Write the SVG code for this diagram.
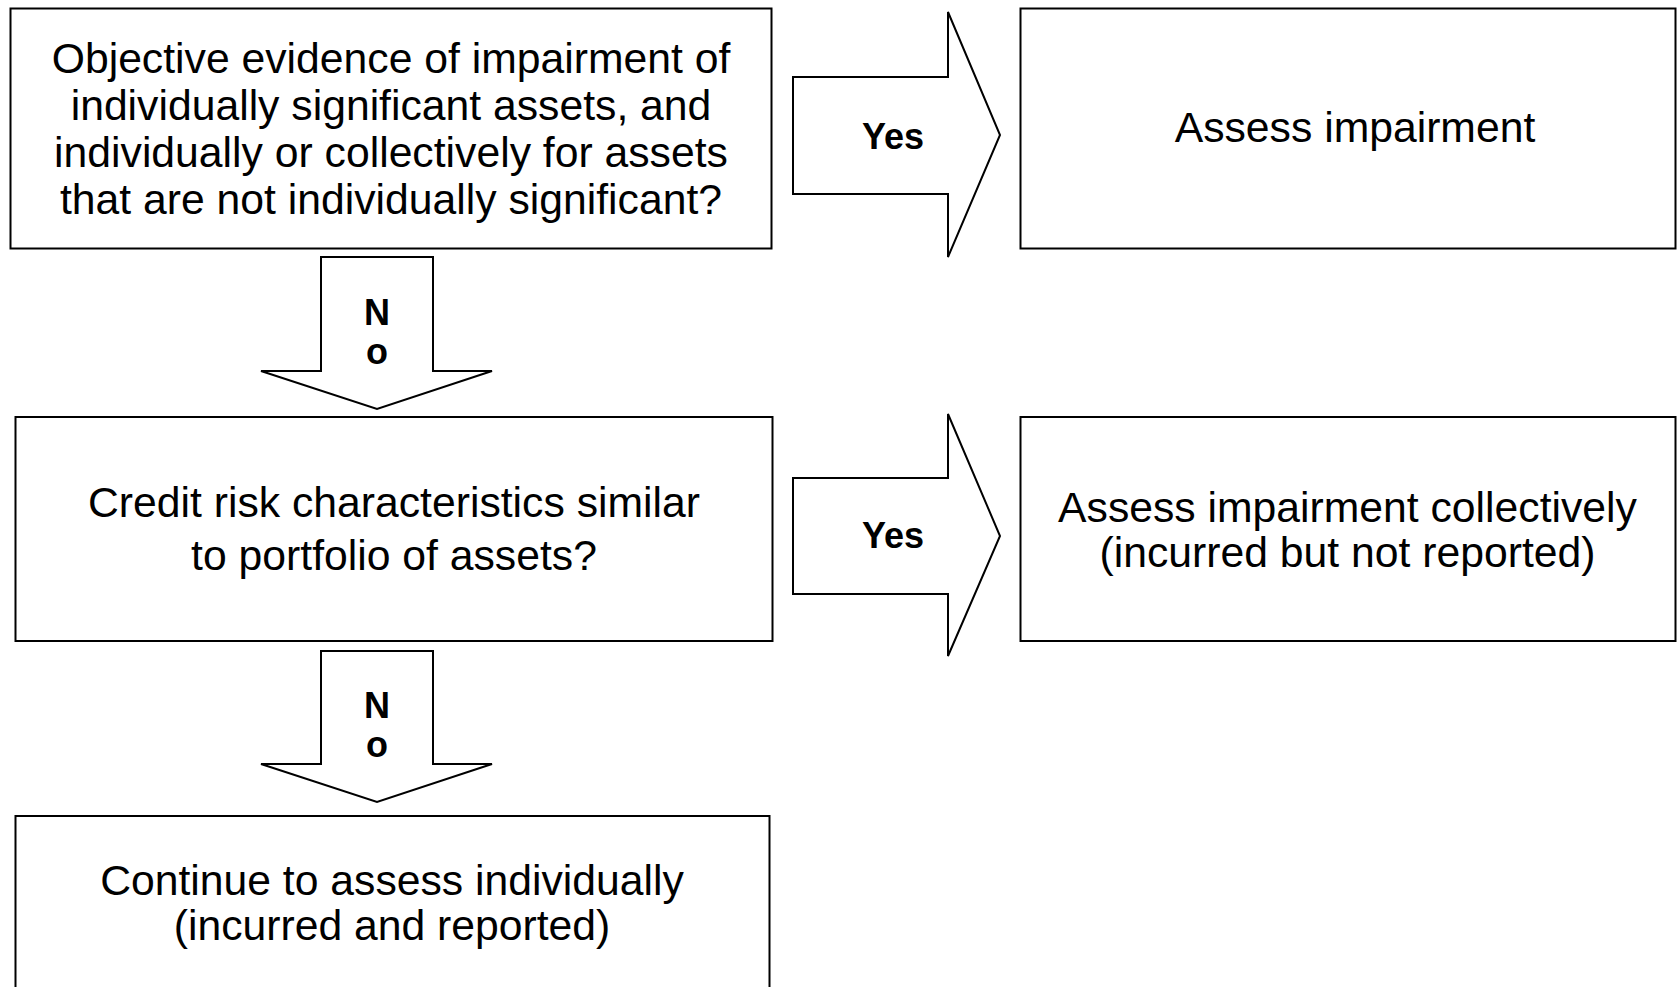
<svg xmlns="http://www.w3.org/2000/svg" width="1677" height="987" viewBox="0 0 1677 987">
<style>
.box{fill:#fff;stroke:#000;stroke-width:2}
.arr{fill:#fff;stroke:#000;stroke-width:2;stroke-linejoin:miter}
.t{font-family:"Liberation Sans",Arial,sans-serif;font-size:42.7px;fill:#000;text-anchor:middle}
.l{font-family:"Liberation Sans",Arial,sans-serif;font-size:36px;font-weight:bold;fill:#000;text-anchor:middle}
</style>
<rect width="1677" height="987" fill="#fff"/>
<g id="connectors">
<g id="yes1"><polygon class="arr" points="793,77 948,77 948,12 1000,135 948,257 948,194 793,194"/><text class="l" x="893" y="149">Yes</text></g>
<g id="yes2"><polygon class="arr" points="793,478 948,478 948,414 1000,536 948,656 948,594 793,594"/><text class="l" x="893" y="548">Yes</text></g>
<g id="no1"><polygon class="arr" points="321,257 433,257 433,371 492,371 377,409 261,371 321,371"/><text class="l" x="377" y="325">N</text><text class="l" x="377" y="364">o</text></g>
<g id="no2"><polygon class="arr" points="321,651 433,651 433,764 492,764 377,802 261,764 321,764"/><text class="l" x="377" y="718">N</text><text class="l" x="377" y="757">o</text></g>
</g>
<g id="n1"><rect class="box" x="10.5" y="8.5" width="761" height="240"/>
<text class="t" x="391" y="73">Objective evidence of impairment of</text>
<text class="t" x="391" y="120">individually significant assets, and</text>
<text class="t" x="391" y="167">individually or collectively for assets</text>
<text class="t" x="391" y="214">that are not individually significant?</text></g>
<g id="n2"><rect class="box" x="1020.5" y="8.5" width="655" height="240"/>
<text class="t" x="1355" y="142">Assess impairment</text></g>
<g id="n3"><rect class="box" x="15.5" y="417" width="757" height="224"/>
<text class="t" x="394" y="517">Credit risk characteristics similar</text>
<text class="t" x="394" y="570">to portfolio of assets?</text></g>
<g id="n4"><rect class="box" x="1020.5" y="417" width="655" height="224"/>
<text class="t" x="1347.5" y="522">Assess impairment collectively</text>
<text class="t" x="1347.5" y="567">(incurred but not reported)</text></g>
<g id="n5"><rect class="box" x="15.5" y="816" width="754" height="200"/>
<text class="t" x="392" y="895">Continue to assess individually</text>
<text class="t" x="392" y="940">(incurred and reported)</text></g>
</svg>
